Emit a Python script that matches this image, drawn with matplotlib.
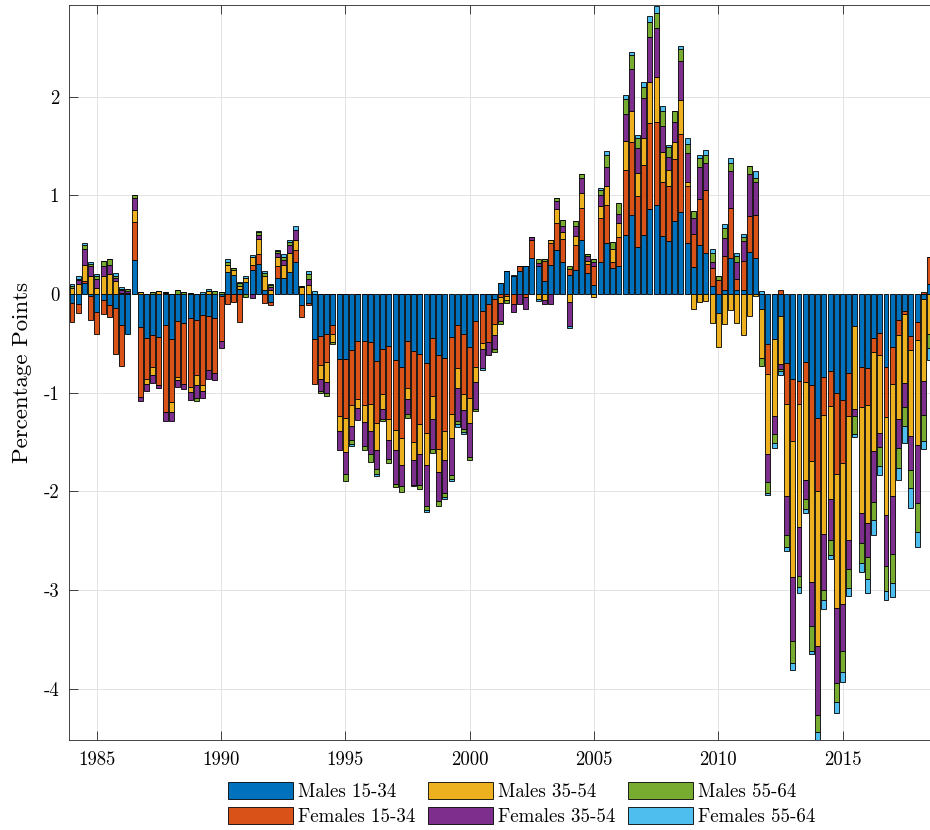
import numpy as np
import pandas as pd
import matplotlib
matplotlib.use('Agg')
import matplotlib.pyplot as plt

plt.rcParams['font.family'] = ['cmr10', 'DejaVu Serif']
plt.rcParams['mathtext.fontset'] = 'cm'
plt.rcParams['axes.unicode_minus'] = False
plt.rcParams['axes.formatter.use_mathtext'] = True

# Quarterly contributions (percentage points), 1984Q1 - 2018Q3
quarters = pd.period_range('1984Q1', '2018Q3', freq='Q')

males_15_34 = [
    -0.09, -0.10, 0.11, -0.02, -0.18, -0.06, -0.11, -0.14,
    -0.31, -0.40, 0.35, -0.33, -0.44, -0.41, -0.43, -0.31,
    -0.46, -0.27, -0.29, -0.24, -0.26, -0.21, -0.22, -0.24,
    -0.02, 0.22, 0.19, 0.05, 0.12, 0.24, 0.31, 0.04,
    -0.08, 0.16, 0.16, 0.22, 0.33, -0.11, -0.09, -0.46,
    -0.42, -0.40, -0.31, -0.66, -0.66, -0.57, -0.48, -0.48,
    -0.49, -0.68, -0.56, -0.53, -0.67, -0.74, -0.48, -0.58,
    -0.61, -0.70, -0.44, -0.62, -0.65, -0.43, -0.31, -0.40,
    -0.54, -0.27, -0.17, -0.10, -0.05, 0.11, 0.23, 0.18,
    0.23, 0.28, 0.37, 0.28, 0.13, 0.30, 0.45, 0.33,
    0.19, 0.24, 0.55, 0.21, 0.09, 0.33, 0.52, 0.26,
    0.28, 0.60, 0.80, 0.48, 0.60, 0.86, 0.90, 0.59,
    0.54, 0.74, 0.83, 0.52, 0.27, 0.50, 0.42, 0.08,
    -0.19, 0.04, 0.37, 0.04, 0.04, 0.43, 0.37, -0.15,
    -0.51, -0.46, -0.22, -0.70, -0.86, -0.88, -0.69, -0.92,
    -1.26, -0.84, -0.78, -1.00, -1.07, -0.80, -0.32, -0.74,
    -0.75, -0.44, -0.39, -0.74, -0.54, -0.26, -0.17, -0.42,
    -0.28, -0.05, 0.10]

females_15_34 = [
    -0.19, -0.09, 0.02, -0.24, -0.22, -0.14, -0.12, -0.47,
    -0.42, 0.00, 0.38, -0.71, -0.42, -0.33, -0.49, -0.89,
    -0.63, -0.57, -0.62, -0.70, -0.56, -0.71, -0.55, -0.56,
    -0.46, -0.10, -0.08, -0.28, 0.00, 0.06, 0.10, -0.09,
    -0.03, 0.12, 0.00, 0.00, 0.12, -0.12, -0.02, -0.45,
    -0.30, -0.29, -0.09, -0.58, -0.60, -0.55, -0.58, -0.64,
    -0.62, -0.63, -0.45, -0.74, -0.71, -0.72, -0.47, -0.92,
    -0.71, -0.71, -0.59, -0.95, -0.74, -0.79, -0.44, -0.61,
    -0.51, -0.47, -0.33, -0.39, -0.25, -0.03, -0.02, -0.10,
    0.05, -0.03, 0.18, 0.00, 0.21, 0.22, 0.27, 0.23,
    0.06, 0.26, 0.32, 0.10, 0.20, 0.44, 0.38, 0.07,
    0.30, 0.66, 0.74, 0.51, 0.71, 0.87, 0.84, 0.55,
    0.56, 0.63, 0.79, 0.58, 0.34, 0.46, 0.64, 0.18,
    0.14, 0.35, 0.50, 0.11, 0.30, 0.36, 0.43, 0.00,
    -0.30, 0.00, 0.04, -0.41, -0.63, -0.23, -0.20, -0.77,
    -0.74, -0.39, -0.35, -0.82, -0.64, -0.44, 0.00, -0.40,
    -0.37, -0.15, -0.23, -0.51, -0.37, -0.15, -0.03, -0.15,
    -0.19, 0.02, 0.28]

males_35_54 = [
    0.06, 0.10, 0.17, 0.18, 0.06, 0.18, 0.20, 0.13,
    0.01, 0.01, 0.12, 0.02, -0.05, -0.08, 0.03, 0.01,
    -0.10, -0.03, 0.00, -0.05, -0.10, -0.06, 0.03, 0.00,
    0.00, 0.08, 0.05, 0.03, 0.04, 0.08, 0.15, 0.14,
    0.04, 0.10, 0.14, 0.20, 0.10, 0.07, 0.09, 0.00,
    -0.14, -0.20, -0.09, -0.15, -0.34, -0.22, -0.09, -0.18,
    -0.28, -0.27, -0.15, -0.21, -0.20, -0.27, -0.11, -0.18,
    -0.30, -0.32, -0.24, -0.23, -0.29, -0.24, -0.20, -0.16,
    -0.26, -0.15, -0.06, 0.00, -0.11, -0.06, -0.04, 0.00,
    0.00, 0.00, 0.00, -0.05, -0.06, 0.03, 0.14, 0.07,
    -0.08, 0.09, 0.15, 0.03, -0.03, 0.12, 0.20, 0.13,
    0.14, 0.29, 0.32, 0.24, 0.27, 0.42, 0.46, 0.30,
    0.16, 0.17, 0.35, 0.04, -0.15, -0.08, -0.07, -0.29,
    -0.35, -0.30, -0.16, -0.29, -0.41, -0.22, -0.02, -0.50,
    -0.81, -0.78, -0.49, -0.94, -1.38, -1.25, -0.99, -1.23,
    -1.57, -1.20, -0.95, -1.36, -1.43, -1.25, -0.84, -1.08,
    -1.20, -1.00, -0.79, -0.99, -1.14, -0.86, -0.70, -0.87,
    -1.06, -0.83, -0.40]

females_35_54 = [
    0.00, 0.04, 0.16, 0.10, 0.09, 0.11, 0.10, 0.03,
    0.03, 0.02, 0.12, -0.04, -0.07, -0.08, -0.03, -0.09,
    -0.10, -0.07, -0.05, -0.08, -0.13, -0.07, -0.09, -0.07,
    -0.07, 0.00, 0.00, 0.00, 0.00, -0.04, 0.04, 0.00,
    0.03, 0.04, 0.05, 0.08, 0.10, 0.00, 0.06, 0.00,
    -0.12, -0.11, 0.00, -0.19, -0.22, -0.14, -0.13, -0.24,
    -0.23, -0.19, -0.11, -0.19, -0.34, -0.22, -0.16, -0.25,
    -0.31, -0.42, -0.30, -0.30, -0.34, -0.37, -0.34, -0.20,
    -0.34, -0.27, -0.19, -0.13, -0.15, -0.18, 0.00, -0.08,
    -0.10, -0.12, 0.03, 0.04, -0.04, -0.10, 0.08, 0.06,
    -0.24, 0.10, 0.16, 0.05, 0.04, 0.11, 0.19, 0.00,
    0.09, 0.28, 0.42, 0.25, 0.41, 0.46, 0.50, 0.26,
    0.13, 0.20, 0.39, 0.29, 0.16, 0.33, 0.27, 0.07,
    0.00, 0.18, 0.38, 0.18, 0.20, 0.43, 0.34, 0.00,
    -0.28, -0.18, -0.05, -0.39, -0.65, -0.50, -0.20, -0.44,
    -0.70, -0.57, -0.41, -0.76, -0.48, -0.30, -0.08, -0.30,
    -0.34, -0.52, -0.14, -0.52, -0.58, -0.29, -0.24, -0.34,
    -0.59, -0.35, 0.00]

males_55_64 = [
    0.02, 0.01, 0.04, 0.03, 0.03, 0.05, 0.06, 0.02,
    0.01, 0.02, 0.03, 0.00, 0.00, 0.02, 0.00, 0.01,
    0.00, 0.04, 0.02, 0.01, -0.03, 0.00, 0.00, 0.03,
    0.02, 0.03, 0.02, 0.03, -0.03, 0.00, 0.03, 0.03,
    0.02, 0.02, 0.03, 0.03, 0.00, 0.01, 0.05, 0.00,
    -0.02, -0.03, -0.02, 0.00, -0.07, -0.04, 0.00, -0.04,
    -0.08, -0.05, -0.02, -0.04, -0.04, -0.06, -0.04, -0.02,
    -0.05, -0.04, -0.04, -0.05, -0.04, -0.04, -0.03, -0.03,
    -0.03, -0.02, 0.00, 0.00, -0.03, -0.03, -0.03, 0.00,
    0.00, 0.00, 0.00, 0.04, 0.02, 0.00, 0.03, 0.06,
    0.03, 0.05, 0.04, 0.02, 0.03, 0.06, 0.12, 0.07,
    0.11, 0.15, 0.14, 0.10, 0.11, 0.15, 0.15, 0.16,
    0.10, 0.12, 0.12, 0.09, 0.07, 0.09, 0.08, 0.09,
    0.04, 0.10, 0.08, 0.06, 0.04, 0.08, 0.04, -0.08,
    -0.12, -0.09, -0.02, -0.12, -0.22, -0.11, -0.10, -0.26,
    -0.17, -0.10, -0.15, -0.19, -0.21, -0.19, -0.18, -0.21,
    -0.23, -0.18, -0.19, -0.25, -0.30, -0.20, -0.20, -0.19,
    -0.29, -0.26, -0.15]

females_55_64 = [
    0.02, 0.03, 0.02, 0.02, 0.02, 0.00, 0.00, 0.03,
    0.02, 0.00, 0.00, 0.00, 0.00, 0.00, 0.00, 0.00,
    0.00, 0.00, 0.00, 0.00, 0.00, 0.02, 0.02, 0.00,
    0.00, 0.03, 0.00, 0.01, 0.02, 0.02, 0.01, 0.02,
    0.01, 0.01, 0.03, 0.02, 0.04, 0.00, 0.03, 0.03,
    0.00, 0.00, 0.00, 0.00, 0.00, -0.02, 0.00, 0.00,
    0.00, -0.02, 0.00, 0.00, 0.00, 0.00, 0.00, 0.00,
    0.00, -0.02, 0.00, 0.00, -0.02, -0.02, -0.03, -0.02,
    0.00, 0.00, -0.02, 0.00, 0.00, 0.00, 0.00, 0.01,
    0.00, 0.00, 0.00, -0.02, 0.00, 0.00, 0.00, 0.00,
    -0.02, 0.00, 0.00, 0.00, 0.00, 0.02, 0.04, 0.00,
    0.00, 0.04, 0.03, 0.03, 0.05, 0.06, 0.07, 0.05,
    0.02, 0.00, 0.03, 0.06, 0.00, 0.03, 0.05, 0.04,
    0.00, 0.04, 0.05, 0.03, 0.03, 0.00, 0.07, 0.03,
    -0.02, -0.05, -0.04, -0.04, -0.07, -0.06, -0.04, -0.03,
    -0.08, -0.09, -0.05, -0.12, -0.10, -0.08, -0.03, -0.09,
    -0.14, -0.15, -0.09, -0.09, -0.14, -0.12, -0.17, -0.20,
    -0.15, -0.08, -0.12]

labels = ['Males 15-34', 'Females 15-34', 'Males 35-54',
          'Females 35-54', 'Males 55-64', 'Females 55-64']
colors = ['#0072BD', '#D95319', '#EDB120', '#7E2F8E', '#77AC30', '#4DBEEE']
series = [males_15_34, females_15_34, males_35_54,
          females_35_54, males_55_64, females_55_64]

x = quarters.year + (quarters.quarter - 1) / 4.0

fig = plt.figure(figsize=(9.3, 8.3), dpi=100)
ax = fig.add_axes([0.0742, 0.1084, 0.9258, 0.8855])

# stacked bars: positives build up from zero, negatives build down
pos_base = np.zeros(len(x))
neg_base = np.zeros(len(x))
for vals, col, lab in zip(series, colors, labels):
    v = np.array(vals)
    base = np.where(v >= 0, pos_base, neg_base)
    ax.bar(x, v, width=0.2, bottom=base, color=col, edgecolor='black',
           linewidth=0.6, label=lab, zorder=2)
    pos_base += np.clip(v, 0, None)
    neg_base += np.clip(v, None, 0)

ax.set_xlim(1983.88, 2018.52)
ax.set_ylim(-4.52, 2.93)
ax.set_xticks([1985, 1990, 1995, 2000, 2005, 2010, 2015])
ax.set_xticklabels(['1985', '1990', '1995', '2000', '2005', '2010', '2015'])
ax.set_yticks([-4, -3, -2, -1, 0, 1, 2])
ax.set_yticklabels(['-4', '-3', '-2', '-1', '0', '1', '2'])

ax.grid(True, color='#dedede', linewidth=0.6)
ax.set_axisbelow(True)
ax.tick_params(direction='in', length=6.5, width=0.6, top=True, right=False,
               labelsize=13.5, colors='#262626', labelcolor='black')
ax.tick_params(axis='x', pad=8)
ax.tick_params(axis='y', pad=7)
for side in ['left', 'top', 'bottom']:
    ax.spines[side].set_color('#262626')
    ax.spines[side].set_linewidth(0.6)
ax.spines['right'].set_visible(False)

ax.set_ylabel('Percentage Points', fontsize=16.5, labelpad=8)

fig.legend(loc='upper center', bbox_to_anchor=(0.561, 0.058), ncol=3,
           frameon=False, fontsize=13.6, handlelength=3.4, handleheight=1.05,
           handletextpad=0.28, columnspacing=0.7, labelspacing=0.3,
           borderpad=0.0, borderaxespad=0.0)

fig.savefig('out.png', dpi=100)
